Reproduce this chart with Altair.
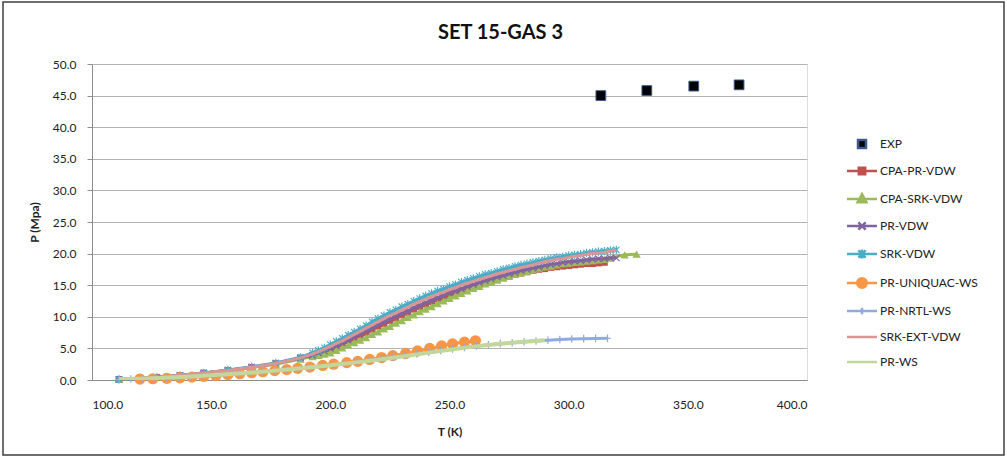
import altair as alt
import pandas as pd

# ---------------- data ----------------
series_names = ["EXP", "CPA-PR-VDW", "CPA-SRK-VDW", "PR-VDW", "SRK-VDW",
                "PR-UNIQUAC-WS", "PR-NRTL-WS", "SRK-EXT-VDW", "PR-WS"]
series_colors = ["#000000", "#C0504D", "#9BBB59", "#8064A2", "#4BACC6",
                 "#F79646", "#8FAADC", "#D99694", "#C3D69B"]

x_ticks = [100, 150, 200, 250, 300, 350, 400]
y_ticks = [0, 5, 10, 15, 20, 25, 30, 35, 40, 45, 50]

exp_T = [313.5, 332.8, 352.5, 371.5]
exp_P = [45.0, 45.8, 46.5, 46.7]

# temperature grid of the VDW-type model curves
main_T = [111.3, 127.2, 136.9, 146.9, 157.0, 167.0, 177.1, 187.5,
          192.5, 195, 197.5, 200, 202.5, 205, 207.5, 210, 212.5, 215,
          217.5, 220, 222.5, 225, 227.5, 230, 232.5, 235, 237.5, 240,
          242.5, 245, 247.5, 250, 252.5, 255, 257.5, 260, 262.5, 265,
          267.5, 270, 272.5, 275, 277.5, 280, 282.5, 285, 287.5, 290,
          292.5, 295, 297.5, 300, 302.5, 305, 307.5, 310, 312.5, 315,
          317.5, 320]
main_early_P = [0.1, 0.4, 0.7, 1.1, 1.5, 2.0, 2.6, 3.5]

cpa_pr_P = main_early_P + [
    3.8, 4.2, 4.5, 4.9, 5.3, 5.7, 6.2, 6.6, 7.1, 7.5,
    8.0, 8.5, 8.9, 9.4, 9.8, 10.3, 10.7, 11.2, 11.6, 12.0,
    12.4, 12.8, 13.1, 13.5, 13.8, 14.2, 14.5, 14.8, 15.1, 15.4,
    15.6, 15.9, 16.2, 16.4, 16.7, 16.9, 17.1, 17.3, 17.5, 17.6,
    17.8, 17.9, 18.0, 18.1, 18.2, 18.3, 18.4, 18.4, 18.5, 18.6]

cpa_srk_T_extra = [323.5, 328.5]
cpa_srk_P = [0.1, 0.4, 0.7, 1.1, 1.5, 2.0, 2.5, 3.3] + [
    3.7, 3.9, 4.1, 4.3, 4.7, 5.1, 5.5, 5.9, 6.3, 6.7,
    7.2, 7.6, 8.1, 8.5, 9.0, 9.4, 9.9, 10.3, 10.8, 11.2,
    11.6, 12.1, 12.5, 12.9, 13.3, 13.7, 14.1, 14.5, 14.8, 15.2,
    15.5, 15.8, 16.1, 16.4, 16.7, 17.0, 17.2, 17.4, 17.7, 17.9,
    18.0, 18.2, 18.4, 18.5, 18.6, 18.7, 18.8, 18.9, 19.0, 19.1,
    19.3, 19.8, 19.9]

pr_vdw_P = main_early_P + [
    3.9, 4.3, 4.6, 5.0, 5.4, 5.9, 6.3, 6.8, 7.3, 7.8,
    8.2, 8.7, 9.2, 9.6, 10.1, 10.5, 10.9, 11.4, 11.8, 12.2,
    12.6, 13.0, 13.4, 13.8, 14.1, 14.4, 14.8, 15.1, 15.4, 15.7,
    16.0, 16.3, 16.5, 16.8, 17.0, 17.3, 17.5, 17.7, 17.9, 18.1,
    18.3, 18.4, 18.6, 18.7, 18.8, 18.9, 19.0, 19.1, 19.2, 19.2,
    19.3, 19.3]

srk_vdw_P = [0.1, 0.4, 0.7, 1.1, 1.6, 2.1, 2.7, 3.6] + [
    4.3, 4.7, 5.1, 5.6, 6.1, 6.6, 7.1, 7.6, 8.1, 8.6,
    9.2, 9.7, 10.2, 10.7, 11.1, 11.6, 12.0, 12.5, 12.9, 13.3,
    13.7, 14.1, 14.4, 14.8, 15.1, 15.5, 15.8, 16.1, 16.4, 16.7,
    16.9, 17.2, 17.5, 17.7, 18.0, 18.2, 18.4, 18.6, 18.8, 19.0,
    19.2, 19.4, 19.5, 19.7, 19.8, 19.9, 20.1, 20.2, 20.3, 20.4,
    20.5, 20.6]

srk_ext_P = main_early_P + [
    4.1, 4.5, 4.9, 5.3, 5.8, 6.2, 6.7, 7.2, 7.7, 8.2,
    8.7, 9.2, 9.7, 10.2, 10.6, 11.1, 11.5, 12.0, 12.4, 12.8,
    13.2, 13.6, 13.9, 14.3, 14.6, 15.0, 15.3, 15.6, 15.9, 16.2,
    16.5, 16.8, 17.0, 17.3, 17.5, 17.8, 18.0, 18.2, 18.5, 18.7,
    18.9, 19.1, 19.2, 19.4, 19.6, 19.7, 19.9, 20.0, 20.1, 20.2,
    20.4, 20.5]

uniquac_T = [120.1, 125.5, 131.4, 136.9, 141.9, 146.9, 152.0, 157.0, 162.0,
             167.0, 171.7, 176.7, 181.7, 186.3, 191.4, 196.8, 201.4, 206.9,
             211.5, 216.5, 221.5, 226.2, 231.6, 236.6, 241.7, 246.7, 251.3,
             256.3, 260.9]
uniquac_P = [0.15, 0.2, 0.27, 0.35, 0.45, 0.55, 0.68, 0.85, 1.0,
             1.15, 1.3, 1.48, 1.65, 1.85, 2.05, 2.3, 2.5, 2.75,
             2.95, 3.25, 3.55, 3.85, 4.2, 4.6, 5.0, 5.4, 5.72,
             6.0, 6.2]

nrtl_T = [111.3, 116.3, 121.3, 126.3, 131.3, 136.3, 141.3, 146.3, 151.3,
          156.3, 161.3, 166.3, 171.3, 176.3, 181.3, 186.3, 191.3, 196.3,
          201.3, 206.3, 211.3, 216.3, 221.3, 226.3, 231.3, 236.3, 241.3,
          246.3, 251.3, 256.3, 261.3, 266.3, 271.3, 276.3, 281.3, 286.3,
          291.3, 296.3, 301.3, 306.3, 311.3, 316.3]
nrtl_P = [0.10, 0.15, 0.2, 0.27, 0.35, 0.45, 0.55, 0.66, 0.78,
          0.9, 1.03, 1.18, 1.33, 1.48, 1.64, 1.8, 1.98, 2.17,
          2.38, 2.6, 2.85, 3.1, 3.35, 3.6, 3.87, 4.13, 4.4,
          4.67, 4.92, 5.15, 5.37, 5.57, 5.75, 5.9, 6.05, 6.18,
          6.3, 6.4, 6.48, 6.54, 6.58, 6.6]

prws_T = [111.3, 120, 130, 140, 150, 160, 170, 180, 190, 200, 210, 220,
          230, 240, 250, 260, 270, 280, 290]
prws_P = [0.1, 0.2, 0.35, 0.53, 0.74, 0.98, 1.26, 1.58, 1.93, 2.32, 2.75,
          3.22, 3.72, 4.25, 4.78, 5.28, 5.7, 6.02, 6.28]

# ---------------- tables ----------------
def table(name, T, P):
    n = min(len(T), len(P))
    return pd.DataFrame({"series": name, "T": T[:n], "P": P[:n]})

series_tables = {
    "EXP": table("EXP", exp_T, exp_P),
    "CPA-PR-VDW": table("CPA-PR-VDW", main_T, cpa_pr_P),
    "CPA-SRK-VDW": table("CPA-SRK-VDW", main_T[:-1] + cpa_srk_T_extra, cpa_srk_P),
    "PR-VDW": table("PR-VDW", main_T, pr_vdw_P),
    "SRK-VDW": table("SRK-VDW", main_T, srk_vdw_P),
    "PR-UNIQUAC-WS": table("PR-UNIQUAC-WS", uniquac_T, uniquac_P),
    "PR-NRTL-WS": table("PR-NRTL-WS", nrtl_T, nrtl_P),
    "SRK-EXT-VDW": table("SRK-EXT-VDW", main_T, srk_ext_P),
    "PR-WS": table("PR-WS", prws_T, prws_P),
}

FONT = "Lato"
TXT = "#222222"

x_enc = alt.X("T:Q", title="T (K)",
              scale=alt.Scale(domain=[100, 400], nice=False, zero=False),
              axis=alt.Axis(values=x_ticks, format=".1f", grid=False, ticks=False,
                            domainColor="#8C8C8C", labelPadding=19,
                            labelFont=FONT, labelFontSize=12, labelColor=TXT,
                            titleFont=FONT, titleFontSize=12, titleFontWeight="bold",
                            titleColor=TXT, titlePadding=16))
y_enc = alt.Y("P:Q", title="P (Mpa)",
              scale=alt.Scale(domain=[0, 50], nice=False, zero=True),
              axis=alt.Axis(values=y_ticks, format=".1f", grid=True, gridColor="#B3B3B3",
                            tickSize=5, tickColor="#8C8C8C", domainColor="#8C8C8C",
                            labelPadding=11, labelFont=FONT, labelFontSize=12,
                            labelColor=TXT, titleFont=FONT, titleFontSize=12,
                            titleFontWeight="bold", titleColor=TXT, titlePadding=11))

X_PATH = "M-1,-1L1,1M-1,1L1,-1"
STAR_PATH = "M-1,-1L1,1M-1,1L1,-1M0,-1.3L0,1.3"
PLUS_PATH = "M0,-1.2L0,1.2M-1,0L1,0"

point_style = {
    "EXP": dict(shape="square", filled=True, size=95, fill="#000000", stroke="#3B5B8C", strokeWidth=1),
    "CPA-PR-VDW": dict(shape="square", filled=True, size=45),
    "CPA-SRK-VDW": dict(shape="triangle-up", filled=True, size=70),
    "PR-VDW": dict(shape=X_PATH, filled=False, size=40, strokeWidth=1.2),
    "SRK-VDW": dict(shape=STAR_PATH, filled=False, size=40, strokeWidth=1.2),
    "PR-UNIQUAC-WS": dict(shape="circle", filled=True, size=125),
    "PR-NRTL-WS": dict(shape=PLUS_PATH, filled=False, size=40, strokeWidth=1.2),
}

layers = []
for name, col in zip(series_names, series_colors):
    df = series_tables[name]
    base = alt.Chart(df)
    if name != "EXP":
        sw = 4 if name == "PR-WS" else 3
        layers.append(base.mark_line(color=col, strokeWidth=sw, clip=True).encode(x=x_enc, y=y_enc))
    if name in point_style:
        st = dict(point_style[name])
        if "fill" not in st:
            st["color"] = col
        layers.append(base.mark_point(opacity=1, **st).encode(x=x_enc, y=y_enc))

# legend (line + marker symbols, as in the spreadsheet legend)
L = "M-3.75,0L3.75,0"
PAD = "M0,-0.75L0,-0.75M0,0.75L0,0.75"   # zero-length strokes: keep row height equal
legend_paths = [
    "M-1,-1L1,-1L1,1L-1,1Z",
    L + "M-0.8,-0.8L0.8,-0.8L0.8,0.8L-0.8,0.8Z",
    L + "M0,-1.2L1.1,0.8L-1.1,0.8Z",
    L + "M-0.9,-0.9L0.9,0.9M-0.9,0.9L0.9,-0.9",
    L + "M-0.9,-0.9L0.9,0.9M-0.9,0.9L0.9,-0.9M0,-1.1L0,1.1",
    L + "M-1.2,0A1.2,1.2,0,1,0,1.2,0A1.2,1.2,0,1,0,-1.2,0Z",
    L + "M0,-0.8L0,0.8",
    L + PAD,
    L + PAD,
]
legend_strokes = ["#3B5B8C"] + series_colors[1:]
legend_df = pd.DataFrame({"series": series_names})
leg = alt.Legend(title=None, orient="none", legendX=749, legendY=74, padding=0,
                 symbolSize=64, symbolStrokeWidth=2.5, symbolOpacity=1,
                 symbolOffset=15, labelOffset=12, rowPadding=9,
                 labelFont=FONT, labelFontSize=12, labelColor=TXT, labelLimit=200)
legend_layer = alt.Chart(legend_df).mark_point(filled=True, opacity=0).encode(
    fill=alt.Fill("series:N", scale=alt.Scale(domain=series_names, range=series_colors), legend=leg),
    stroke=alt.Stroke("series:N", scale=alt.Scale(domain=series_names, range=legend_strokes), legend=leg),
    shape=alt.Shape("series:N", scale=alt.Scale(domain=series_names, range=legend_paths), legend=leg),
)
layers.append(legend_layer)

# outer frame of the chart object
frame = alt.Chart(pd.DataFrame({"f": [0]})).mark_rect(
    filled=False, color="#404040", strokeWidth=1.5, clip=False).encode(
    x=alt.value(-89), x2=alt.value(912), y=alt.value(-62), y2=alt.value(391))
layers.append(frame)

chart = alt.layer(*layers).properties(
    width=715, height=316,
    title=alt.TitleParams("SET 15-GAS 3", font=FONT, fontSize=20, fontWeight="bold",
                          color="#111111", anchor="middle", frame="group", dx=51,
                          offset=-42),
    autosize=alt.AutoSizeParams(type="none"),
    padding={"left": 92, "top": 64, "right": 200, "bottom": 78},
).configure_view(stroke=None).configure(background="white")

chart.save("out.html", embed_options={"renderer": "svg", "actions": False})
